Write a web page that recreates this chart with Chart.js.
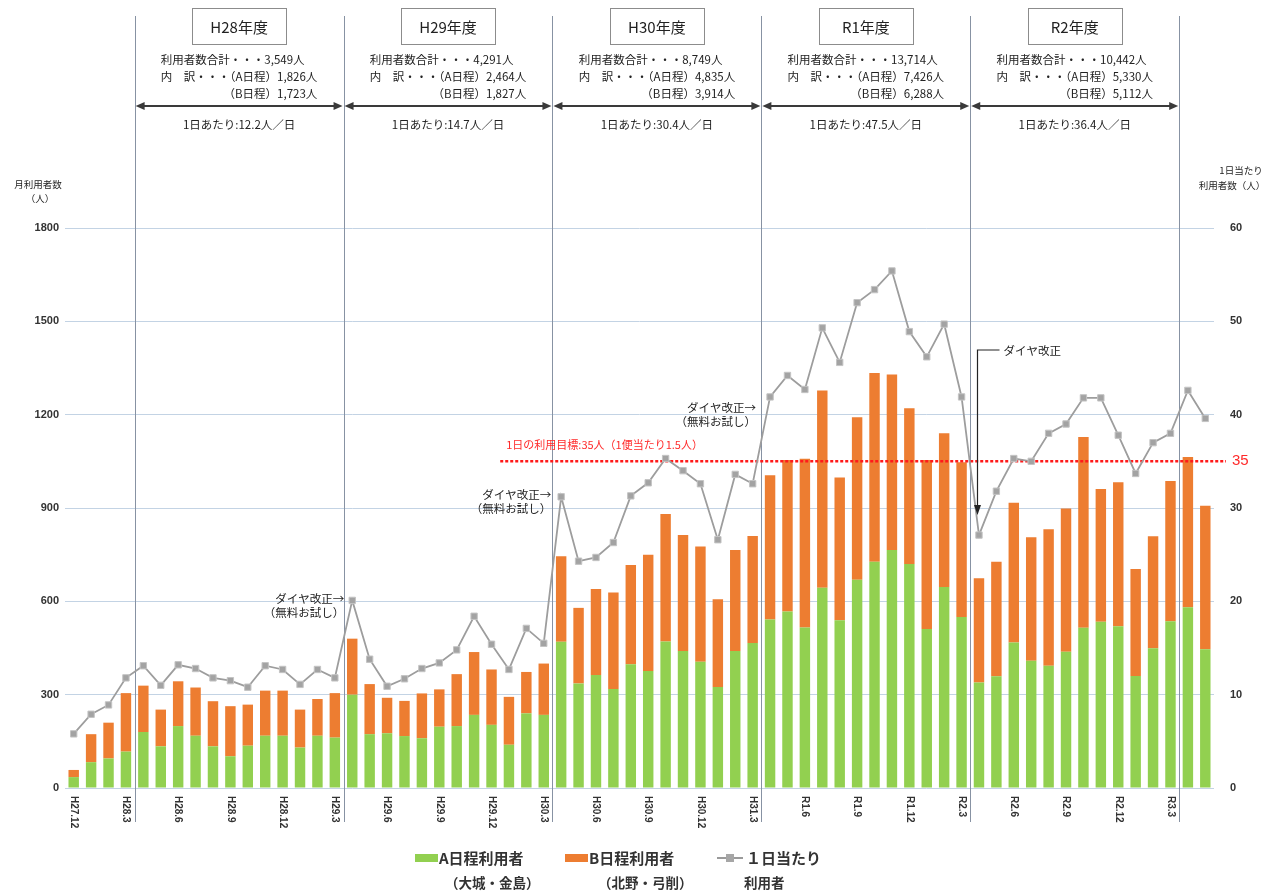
<!DOCTYPE html>
<html lang="ja">
<head>
<meta charset="utf-8">
<title>月別利用者数の推移</title>
<script src="https://cdn.jsdelivr.net/npm/chart.js@4.4.1/dist/chart.umd.min.js"></script>
<style>
  html, body { margin: 0; padding: 0; background: #fff; }
  #wrap { width: 1265px; height: 891px; position: relative; }
</style>
</head>
<body>
<div id="wrap"><canvas id="grafico"></canvas></div>
<script>
// 月 (H27.12 〜 R3.5)
const months = [
  "H27.12",
  "H28.1", "H28.2", "H28.3", "H28.4", "H28.5", "H28.6", "H28.7", "H28.8", "H28.9", "H28.10", "H28.11", "H28.12",
  "H29.1", "H29.2", "H29.3", "H29.4", "H29.5", "H29.6", "H29.7", "H29.8", "H29.9", "H29.10", "H29.11", "H29.12",
  "H30.1", "H30.2", "H30.3", "H30.4", "H30.5", "H30.6", "H30.7", "H30.8", "H30.9", "H30.10", "H30.11", "H30.12",
  "H31.1", "H31.2", "H31.3", "H31.4", "R1.5", "R1.6", "R1.7", "R1.8", "R1.9", "R1.10", "R1.11", "R1.12",
  "R2.1", "R2.2", "R2.3", "R2.4", "R2.5", "R2.6", "R2.7", "R2.8", "R2.9", "R2.10", "R2.11", "R2.12",
  "R3.1", "R3.2", "R3.3", "R3.4", "R3.5"
];

// A日程利用者（大城・金島）
const routeA = [
  35,
  83, 95, 117, 180, 134, 199, 168, 134, 102, 136, 168, 168,
  130, 168, 162, 300, 173, 176, 167, 160, 197, 199, 235, 203,
  139, 240, 235, 470, 336, 363, 318, 398, 376, 471, 440, 406,
  325, 440, 466, 542, 567, 516, 644, 539, 669, 727, 765, 720,
  511, 646, 550, 339, 359, 468, 409, 393, 438, 515, 534, 520,
  360, 449, 536, 581, 446
];

// B日程利用者（北野・弓削）
const routeB = [
  23,
  90, 115, 188, 149, 118, 144, 155, 145, 161, 132, 145, 145,
  122, 118, 143, 180, 161, 114, 113, 144, 120, 167, 202, 178,
  154, 133, 165, 275, 243, 277, 310, 319, 374, 410, 373, 370,
  282, 325, 344, 463, 487, 542, 634, 459, 523, 607, 564, 501,
  543, 494, 497, 335, 368, 449, 397, 439, 460, 613, 427, 463,
  344, 360, 451, 483, 461
];

// 1日当たり利用者
const perDay = [
  5.8,
  7.9, 8.9, 11.8, 13.1, 11.0, 13.2, 12.8, 11.8, 11.5, 10.8, 13.1, 12.7,
  11.1, 12.7, 11.8, 20.1, 13.8, 10.9, 11.7, 12.8, 13.4, 14.8, 18.4, 15.4,
  12.7, 17.1, 15.5, 31.2, 24.3, 24.7, 26.3, 31.3, 32.7, 35.3, 34.0, 32.6,
  26.6, 33.6, 32.6, 41.9, 44.2, 42.7, 49.3, 45.6, 52.0, 53.4, 55.4, 48.9,
  46.2, 49.7, 41.9, 27.1, 31.8, 35.3, 35.0, 38.0, 39.0, 41.8, 41.8, 37.8,
  33.7, 37.0, 38.0, 42.6, 39.6
];

// 年度ごとの集計（見出し用）
const yearNames = ["H28年度", "H29年度", "H30年度", "R1年度", "R2年度"];
const yearStart = [4, 16, 28, 40, 52, 64];   // 各年度の最初の月（月配列の位置）
const yearTotal = ["3,549", "4,291", "8,749", "13,714", "10,442"];
const yearA = ["1,826", "2,464", "4,835", "7,426", "5,330"];
const yearB = ["1,723", "1,827", "3,914", "6,288", "5,112"];
const yearDaily = ["12.2", "14.7", "30.4", "47.5", "36.4"];

const target = 35;
const revisionTrial = [16, 28, 40];  // ダイヤ改正（無料お試し）
const revision = 52;                 // ダイヤ改正

const colorA = "#92d050";
const colorB = "#ed7d31";
const JP = "'Noto Sans CJK JP', 'Noto Sans', sans-serif";
const NUM = "'Liberation Sans', Arial, sans-serif";

function boundaryX(xs, idx) {
  return (xs.getPixelForValue(idx - 1) + xs.getPixelForValue(idx)) / 2;
}

function arrowHead(ctx, x, y, dir) {
  ctx.beginPath();
  ctx.moveTo(x, y);
  ctx.lineTo(x - dir * 9, y - 4);
  ctx.lineTo(x - dir * 9, y + 4);
  ctx.closePath();
  ctx.fill();
}

const overlay = {
  id: "overlay",
  beforeDatasetsDraw(chart) {
    // 年度の区切り線
    const ctx = chart.ctx;
    const xs = chart.scales.x;
    ctx.save();
    ctx.strokeStyle = "#8792a3";
    ctx.lineWidth = 1;
    yearStart.forEach((i) => {
      const x = Math.round(boundaryX(xs, i)) + 0.5;
      ctx.beginPath();
      ctx.moveTo(x, 16);
      ctx.lineTo(x, 822);
      ctx.stroke();
    });
    ctx.restore();
  },
  beforeDatasetDraw(chart, args) {
    // 目標ライン（折れ線の下、棒の上）
    if (args.index !== 0) return;
    const ctx = chart.ctx;
    const xs = chart.scales.x;
    const y = chart.scales.y1.getPixelForValue(target);
    const x0 = xs.getPixelForValue(24.5);
    ctx.save();
    ctx.strokeStyle = "#ff1a1a";
    ctx.lineWidth = 2.5;
    ctx.setLineDash([3, 2]);
    ctx.beginPath();
    ctx.moveTo(x0, y);
    ctx.lineTo(chart.chartArea.right + 12, y);
    ctx.stroke();
    ctx.setLineDash([]);
    ctx.fillStyle = "#ff2a2a";
    ctx.font = `11px ${JP}`;
    ctx.textAlign = "left";
    ctx.textBaseline = "middle";
    ctx.fillText("1日の利用目標:35人（1便当たり1.5人）", x0 + 6, y - 17);
    ctx.font = `15px ${NUM}`;
    ctx.fillText(String(target), chart.chartArea.right + 18, y);
    ctx.restore();
  },
  afterDraw(chart) {
    const ctx = chart.ctx;
    const xs = chart.scales.x;
    const y1 = chart.scales.y1;
    const area = chart.chartArea;
    ctx.save();

    // 横軸ラベル（3か月ごと、縦書き）
    ctx.fillStyle = "#333";
    ctx.font = `bold 10px ${NUM}`;
    ctx.textAlign = "left";
    ctx.textBaseline = "middle";
    months.forEach((m, i) => {
      if (i % 3 !== 0) return;
      ctx.save();
      ctx.translate(xs.getPixelForValue(i), area.bottom + 8);
      ctx.rotate(Math.PI / 2);
      ctx.fillText(m, 0, 0);
      ctx.restore();
    });

    // 軸タイトル
    ctx.font = `9.5px ${JP}`;
    ctx.textAlign = "center";
    ctx.fillStyle = "#222";
    ctx.fillText("月利用者数", 38, 184);
    ctx.fillText("（人）", 40, 198);
    ctx.fillText("1日当たり", 1241, 170);
    ctx.fillText("利用者数（人）", 1232, 185);

    // 年度見出し
    for (let k = 0; k < yearNames.length; k++) {
      const x0 = boundaryX(xs, yearStart[k]);
      const x1 = boundaryX(xs, yearStart[k + 1]);
      const cx = (x0 + x1) / 2;

      ctx.strokeStyle = "#8c8c8c";
      ctx.lineWidth = 1;
      ctx.strokeRect(Math.round(cx - 47) + 0.5, 8.5, 94, 36);
      ctx.fillStyle = "#222";
      ctx.font = `15px ${JP}`;
      ctx.textAlign = "center";
      ctx.fillText(yearNames[k], cx, 27);

      ctx.font = `11.5px ${JP}`;
      const l1 = `利用者数合計・・・${yearTotal[k]}人`;
      const l2 = `内　訳・・・（A日程）${yearA[k]}人`;
      const l3 = `（B日程）${yearB[k]}人`;
      const w = Math.max(ctx.measureText(l1).width, ctx.measureText(l2).width);
      const left = cx - w / 2;
      ctx.textAlign = "left";
      ctx.fillText(l1, left, 60);
      ctx.fillText(l2, left, 77);
      ctx.textAlign = "right";
      ctx.fillText(l3, left + ctx.measureText(l2).width, 94);

      // 両矢印
      ctx.strokeStyle = "#3a3a3a";
      ctx.fillStyle = "#3a3a3a";
      ctx.lineWidth = 2;
      ctx.beginPath();
      ctx.moveTo(x0 + 4, 106);
      ctx.lineTo(x1 - 4, 106);
      ctx.stroke();
      arrowHead(ctx, x0 + 1, 106, -1);
      arrowHead(ctx, x1 - 1, 106, 1);

      ctx.fillStyle = "#222";
      ctx.textAlign = "center";
      ctx.fillText(`1日あたり:${yearDaily[k]}人／日`, cx, 125);
    }

    // ダイヤ改正（無料お試し）
    const gaps = [8, 10, 14];
    const dys = [-2, -2, 11];
    ctx.font = `11.5px ${JP}`;
    ctx.fillStyle = "#222";
    ctx.textAlign = "right";
    revisionTrial.forEach((i, n) => {
      const px = xs.getPixelForValue(i) - gaps[n];
      const py = y1.getPixelForValue(perDay[i]) + dys[n];
      ctx.fillText("ダイヤ改正→", px, py);
      ctx.fillText("（無料お試し）", px, py + 14);
    });

    // ダイヤ改正（R2.4）
    const rx = Math.round(xs.getPixelForValue(revision)) - 1.5;
    const ry = y1.getPixelForValue(perDay[revision]);
    ctx.strokeStyle = "#222";
    ctx.fillStyle = "#222";
    ctx.lineWidth = 1.2;
    ctx.beginPath();
    ctx.moveTo(rx + 22, 350);
    ctx.lineTo(rx, 350);
    ctx.lineTo(rx, ry - 28);
    ctx.stroke();
    ctx.beginPath();
    ctx.moveTo(rx, ry - 20);
    ctx.lineTo(rx - 3.5, ry - 30);
    ctx.lineTo(rx + 3.5, ry - 30);
    ctx.closePath();
    ctx.fill();
    ctx.textAlign = "left";
    ctx.fillText("ダイヤ改正", rx + 26, 351);

    // 凡例
    ctx.fillStyle = colorA;
    ctx.fillRect(415, 854, 23, 8);
    ctx.fillStyle = colorB;
    ctx.fillRect(565, 854, 23, 8);
    ctx.strokeStyle = "#9a9a9a";
    ctx.lineWidth = 2;
    ctx.beginPath();
    ctx.moveTo(717, 858);
    ctx.lineTo(743, 858);
    ctx.stroke();
    ctx.fillStyle = "#a6a6a6";
    ctx.fillRect(726, 854, 8, 8);

    ctx.fillStyle = "#333";
    ctx.font = `bold 15px ${JP}`;
    ctx.textAlign = "left";
    ctx.fillText("A日程利用者", 439, 858);
    ctx.fillText("B日程利用者", 589, 858);
    ctx.fillText("１日当たり", 746, 858);
    ctx.font = `bold 13.5px ${JP}`;
    ctx.fillText("（大城・金島）", 445, 883);
    ctx.fillText("（北野・弓削）", 598, 883);
    ctx.fillText("利用者", 744, 883);

    ctx.restore();
  },
};

new Chart(document.getElementById("grafico"), {
  data: {
    labels: months,
    datasets: [
      {
        type: "line",
        label: "1日当たり利用者",
        data: perDay,
        yAxisID: "y1",
        borderColor: "#9d9d9d",
        borderWidth: 1.8,
        pointStyle: "rect",
        pointRadius: 4.5,
        pointBackgroundColor: "#a3a3a3",
        pointBorderColor: "#c4c4c4",
        pointBorderWidth: 1,
        tension: 0,
        order: 0,
      },
      {
        type: "bar",
        label: "A日程利用者",
        data: routeA,
        yAxisID: "y",
        backgroundColor: colorA,
        barPercentage: 0.6,
        categoryPercentage: 1,
        order: 1,
      },
      {
        type: "bar",
        label: "B日程利用者",
        data: routeB,
        yAxisID: "y",
        backgroundColor: colorB,
        barPercentage: 0.6,
        categoryPercentage: 1,
        order: 1,
      },
    ],
  },
  options: {
    responsive: true,
    maintainAspectRatio: false,
    animation: false,
    layout: { padding: { top: 228, left: 0, right: 0, bottom: 0 } },
    plugins: { legend: { display: false }, tooltip: { enabled: false } },
    scales: {
      x: {
        stacked: true,
        offset: true,
        grid: { display: false },
        border: { display: false },
        ticks: { display: false },
        afterFit: (s) => { s.height = 103; },
      },
      y: {
        stacked: true,
        min: 0,
        max: 1800,
        ticks: {
          stepSize: 300,
          color: "#333",
          padding: 6,
          font: { family: NUM, size: 11, weight: "bold" },
          callback: (v) => String(v),
        },
        grid: { color: "#c3d3e4", lineWidth: 1, drawTicks: false },
        border: { display: false },
        afterFit: (s) => { s.width = 65; },
      },
      y1: {
        position: "right",
        min: 0,
        max: 60,
        ticks: {
          stepSize: 10,
          color: "#333",
          padding: 16,
          font: { family: NUM, size: 11, weight: "bold" },
          callback: (v) => String(v),
        },
        grid: { drawOnChartArea: false, drawTicks: false },
        border: { display: false },
        afterFit: (s) => { s.width = 51; },
      },
    },
  },
  plugins: [overlay],
});
</script>
</body>
</html>
